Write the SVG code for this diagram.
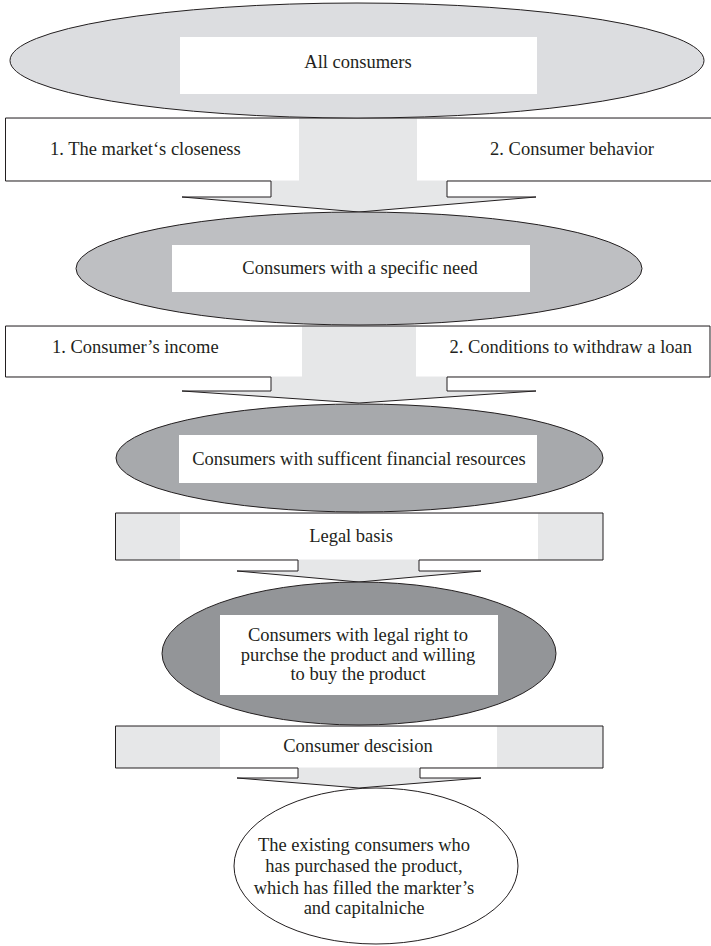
<svg xmlns="http://www.w3.org/2000/svg" width="711" height="946" viewBox="0 0 711 946">
<style>
  .ol{stroke:#231f20;stroke-width:1;}
  .arw{fill:#e6e7e8;stroke:none;}
  .arwo{fill:none;stroke:#231f20;stroke-width:1;}
  .wb{fill:#ffffff;stroke:none;}
  text{font-family:"Liberation Serif","Times New Roman",serif;font-size:18.5px;fill:#231f20;}
  .c{text-anchor:middle;}
  .e{text-anchor:end;}
</style>
<rect width="711" height="946" fill="#ffffff"/>
<g id="connectors">
  <g id="arrow1">
    <path class="arw" d="M5.5,118 H714 V181 H447 V197 H536 L359,212 L182,197 H271 V181 H5.5 Z"/>
    <rect class="wb" x="6" y="118.5" width="293" height="62"/>
    <rect class="wb" x="417" y="118.5" width="296" height="62"/>
    <path class="arwo" d="M5.5,118 H714 V181 H447 V197 H536 L359,212 L182,197 H271 V181 H5.5 Z"/>
    <text x="50" y="155">1. The market‘s closeness</text>
    <text class="e" x="654" y="155">2. Consumer behavior</text>
  </g>
  <g id="arrow2">
    <path class="arw" d="M5.5,326 H710 V377 H447 V391 H536 L359,403 L182,391 H271 V377 H5.5 Z"/>
    <rect class="wb" x="6" y="326.5" width="296" height="50"/>
    <rect class="wb" x="416" y="326.5" width="293.5" height="50"/>
    <path class="arwo" d="M5.5,326 H710 V377 H447 V391 H536 L359,403 L182,391 H271 V377 H5.5 Z"/>
    <text x="52" y="353">1. Consumer’s income</text>
    <text class="e" x="692" y="353">2. Conditions to withdraw a loan</text>
  </g>
  <g id="arrow3">
    <path class="arw" d="M115.5,513 H603 V560 H419 V571 H481 L359,582 L237,571 H298 V560 H115.5 Z"/>
    <rect class="wb" x="180" y="513.5" width="358" height="46"/>
    <path class="arwo" d="M115.5,513 H603 V560 H419 V571 H481 L359,582 L237,571 H298 V560 H115.5 Z"/>
    <text class="c" x="351" y="542">Legal basis</text>
  </g>
  <g id="arrow4">
    <path class="arw" d="M115.5,726 H603 V768 H420 V778 H481 L359,788 L237,778 H298 V768 H115.5 Z"/>
    <rect class="wb" x="220" y="726.5" width="277" height="41"/>
    <path class="arwo" d="M115.5,726 H603 V768 H420 V778 H481 L359,788 L237,778 H298 V768 H115.5 Z"/>
    <text class="c" x="358" y="752">Consumer descision</text>
  </g>
</g>
<g id="node1">
  <ellipse class="ol" cx="357" cy="60.5" rx="347" ry="57.5" fill="#dcdde0"/>
  <rect class="wb" x="180" y="37" width="357" height="57"/>
  <text class="c" x="358" y="68">All consumers</text>
</g>
<g id="node2">
  <ellipse class="ol" cx="359" cy="268.5" rx="283" ry="56.5" fill="#bebfc2"/>
  <rect class="wb" x="172" y="245" width="358" height="47"/>
  <text class="c" x="360" y="274">Consumers with a specific need</text>
</g>
<g id="node3">
  <ellipse class="ol" cx="359.5" cy="458" rx="243.5" ry="54" fill="#a7a9ac"/>
  <rect class="wb" x="179" y="435" width="358" height="48"/>
  <text class="c" x="359" y="465">Consumers with sufficent financial resources</text>
</g>
<g id="node4">
  <ellipse class="ol" cx="359" cy="653.5" rx="197" ry="71.5" fill="#939598"/>
  <rect class="wb" x="220" y="615" width="278" height="80"/>
  <text class="c" x="358" y="641">Consumers with legal right to</text>
  <text class="c" x="358" y="661">purchse the product and willing</text>
  <text class="c" x="358" y="680">to buy the product</text>
</g>
<g id="node5">
  <ellipse class="ol" cx="376" cy="866" rx="142" ry="78" fill="#ffffff"/>
  <text class="c" x="364" y="851">The existing consumers who</text>
  <text class="c" x="364" y="872">has purchased the product,</text>
  <text class="c" x="364" y="894">which has filled the markter’s</text>
  <text class="c" x="364" y="914">and capitalniche</text>
</g>
</svg>
